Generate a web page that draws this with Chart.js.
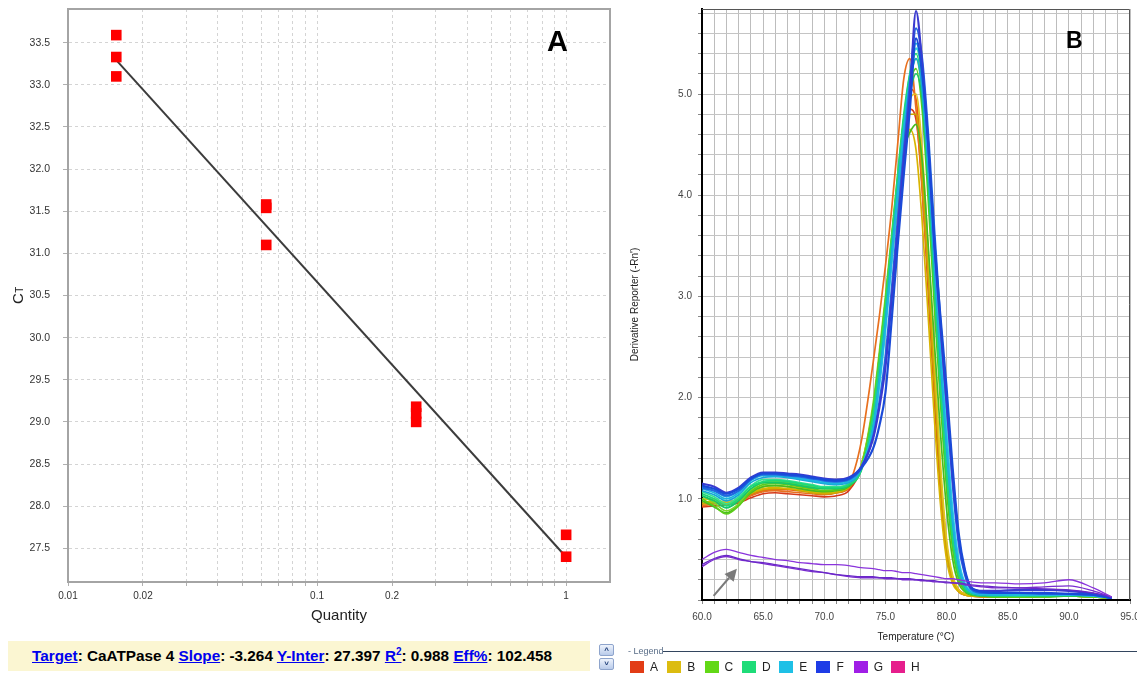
<!DOCTYPE html>
<html>
<head>
<meta charset="utf-8">
<title>CaATPase 4 standard curve / melt curve</title>
<script src="https://cdn.jsdelivr.net/npm/chart.js@4.4.1/dist/chart.umd.min.js"></script>
<style>
  html, body { margin:0; padding:0; background:#fff; }
  body { width:1137px; height:677px; position:relative; overflow:hidden;
         font-family: Arial, "Liberation Sans", sans-serif; }
  canvas { position:absolute; }
  #cStd  { left:0; top:0; }
  #cMelt { left:622px; top:0; }
  .tag { position:absolute; font-weight:bold; color:#000; line-height:1; }
  #tagA { left:547px; top:27px; font-size:29px; }
  #tagB { left:1066px; top:29px; font-size:23px; }
  #statBar { position:absolute; left:8px; top:641px; width:582px; height:30px; box-sizing:border-box;
             padding-left:24px; background:#fbf6d2; font-weight:bold; font-size:15.3px; line-height:30px;
             white-space:nowrap; color:#000; }
  #statBar a { color:#0000ee; text-decoration:underline; }
  #statBar sup { font-size:10px; line-height:0; }
  .scrollBtn { position:absolute; left:599px; width:15px; height:12px; box-sizing:border-box;
               border:1px solid #8ea4cc; border-radius:2px; background:linear-gradient(#eef3fc,#b9cbea);
               color:#1f3f7a; font-size:8px; line-height:10px; text-align:center; font-weight:bold; }
  #btnUp { top:644px; }
  #btnDown { top:658px; }
  #legendHead { position:absolute; left:628px; top:646px; font-size:9px; color:#5a6e88; line-height:10px; }
  #legendRule { position:absolute; left:663px; top:651px; width:474px; height:1px; background:#33455e; }
  #legendRow { position:absolute; left:630px; top:660px; display:flex; }
  #legendRow .item { width:37.3px; display:flex; align-items:center; font-size:12px; color:#222; }
  #legendRow .sw { width:14px; height:12px; margin-right:6px; }
</style>
</head>
<body>
<canvas id="cStd" width="620" height="640"></canvas>
<canvas id="cMelt" width="515" height="645"></canvas>
<div class="tag" id="tagA">A</div>
<div class="tag" id="tagB">B</div>
<div id="statBar"></div>
<div class="scrollBtn" id="btnUp">&#708;</div>
<div class="scrollBtn" id="btnDown">&#709;</div>
<div id="legendHead">- Legend</div>
<div id="legendRule"></div>
<div id="legendRow"></div>

<script>
// ---------- Standard curve (panel A) ----------
const targetName   = 'CaATPase 4';
const fitSlope     = -3.264;
const fitIntercept = 27.397;
const fitR2        = 0.988;
const fitEff       = 102.458;

const stdQty = [0.015625, 0.015625, 0.015625, 0.0625, 0.0625, 0.0625, 0.25, 0.25, 0.25, 1, 1];
const stdCt  = [33.59, 33.33, 33.10, 31.58, 31.54, 31.10, 29.18, 29.10, 29.00, 27.66, 27.40];

const qtyLabels = [0.01, 0.02, 0.1, 0.2, 1];

// ---------- Melt curve (panel B) ----------
const meltTemps = [60, 61, 62, 63, 64, 65, 66, 67, 68, 69, 70, 71, 72, 73,
  74, 74.5, 75, 75.5, 76, 76.5, 77, 77.5, 78, 78.5, 79, 79.5, 80, 80.5, 81, 81.5, 82,
  83, 84, 86, 88, 90, 92, 93.5];

const wellA = [
  [0.93,0.95,0.96,0.97,1.03,1.07,1.08,1.07,1.06,1.05,1.04,1.06,1.14,1.55,
   2.35,2.80,3.30,3.85,4.50,5.15,5.35,4.85,4.05,3.15,2.15,1.20,0.50,0.20,0.09,0.06,0.05,
   0.04,0.04,0.04,0.05,0.05,0.04,0.02],
  [0.92,0.93,0.94,0.96,1.01,1.05,1.06,1.05,1.04,1.03,1.02,1.03,1.08,1.30,
   1.85,2.30,2.85,3.45,4.00,4.50,4.85,4.75,4.10,3.05,2.00,1.05,0.45,0.18,0.08,0.05,0.04,
   0.03,0.03,0.03,0.04,0.04,0.03,0.02],
  [0.95,0.96,0.97,0.99,1.04,1.08,1.09,1.09,1.08,1.07,1.05,1.06,1.10,1.32,
   1.90,2.40,2.95,3.55,4.15,4.70,5.05,4.95,4.30,3.30,2.25,1.25,0.55,0.22,0.10,0.06,0.05,
   0.04,0.04,0.04,0.04,0.05,0.04,0.02],
];
const wellB = [
  [0.97,0.97,0.95,0.98,1.06,1.10,1.11,1.10,1.09,1.07,1.06,1.07,1.12,1.33,
   1.90,2.35,2.85,3.40,3.95,4.40,4.65,4.45,3.75,2.80,1.80,0.95,0.40,0.16,0.08,0.05,0.04,
   0.04,0.03,0.03,0.04,0.04,0.03,0.02],
  [1.00,0.99,0.97,1.00,1.08,1.12,1.13,1.12,1.11,1.09,1.08,1.09,1.13,1.30,
   1.82,2.28,2.80,3.40,4.00,4.55,4.95,5.00,4.45,3.45,2.40,1.35,0.60,0.24,0.10,0.06,0.05,
   0.04,0.04,0.04,0.04,0.04,0.04,0.02],
  [0.95,0.96,0.96,0.99,1.05,1.09,1.10,1.10,1.08,1.06,1.05,1.06,1.11,1.31,
   1.85,2.30,2.80,3.35,3.90,4.45,4.80,4.80,4.20,3.20,2.15,1.20,0.52,0.20,0.09,0.05,0.04,
   0.03,0.03,0.03,0.04,0.04,0.03,0.02],
];
const wellC = [
  [1.00,0.93,0.85,0.93,1.07,1.14,1.15,1.14,1.12,1.10,1.08,1.09,1.13,1.30,
   1.90,2.40,2.95,3.55,4.15,4.70,5.10,5.25,4.85,3.95,2.90,1.95,1.10,0.50,0.20,0.09,0.06,
   0.04,0.03,0.03,0.03,0.04,0.03,0.02],
  [1.03,0.96,0.88,0.95,1.09,1.16,1.17,1.16,1.14,1.12,1.10,1.11,1.15,1.32,
   1.95,2.45,3.00,3.60,4.20,4.75,5.15,5.35,5.00,4.10,3.05,2.05,1.20,0.55,0.22,0.10,0.06,
   0.04,0.04,0.03,0.04,0.04,0.03,0.02],
  [0.98,0.92,0.86,0.94,1.06,1.12,1.13,1.12,1.10,1.08,1.07,1.08,1.12,1.29,
   1.85,2.30,2.85,3.45,4.00,4.45,4.62,4.70,4.35,3.50,2.55,1.65,0.90,0.40,0.16,0.08,0.05,
   0.04,0.03,0.03,0.03,0.04,0.03,0.02],
];
const wellD = [
  [1.05,1.00,0.93,1.00,1.12,1.17,1.18,1.17,1.15,1.13,1.11,1.11,1.14,1.28,
   1.85,2.35,2.90,3.55,4.20,4.80,5.20,5.40,5.05,4.15,3.10,2.10,1.25,0.60,0.25,0.11,0.07,
   0.05,0.04,0.04,0.04,0.05,0.04,0.02],
  [1.07,1.02,0.95,1.02,1.13,1.19,1.19,1.18,1.16,1.14,1.12,1.12,1.15,1.29,
   1.80,2.30,2.85,3.50,4.15,4.75,5.20,5.45,5.15,4.30,3.25,2.25,1.35,0.65,0.27,0.12,0.07,
   0.05,0.05,0.04,0.05,0.05,0.04,0.02],
  [1.03,0.98,0.91,0.98,1.10,1.16,1.16,1.15,1.13,1.11,1.10,1.10,1.13,1.27,
   1.75,2.20,2.75,3.40,4.05,4.60,5.00,5.20,4.95,4.10,3.10,2.10,1.25,0.60,0.25,0.10,0.06,
   0.04,0.04,0.04,0.04,0.04,0.04,0.02],
];
const wellE = [
  [1.10,1.06,1.00,1.06,1.18,1.23,1.23,1.22,1.20,1.18,1.16,1.15,1.17,1.30,
   1.70,2.15,2.70,3.35,4.00,4.65,5.15,5.50,5.20,4.40,3.40,2.45,1.55,0.80,0.35,0.15,0.08,
   0.06,0.05,0.05,0.05,0.05,0.04,0.02],
  [1.12,1.08,1.02,1.08,1.19,1.24,1.24,1.23,1.21,1.19,1.17,1.16,1.18,1.31,
   1.68,2.10,2.65,3.30,3.95,4.60,5.10,5.45,5.25,4.50,3.55,2.60,1.70,0.90,0.40,0.17,0.09,
   0.06,0.06,0.05,0.05,0.05,0.04,0.02],
  [1.08,1.04,0.98,1.04,1.16,1.21,1.22,1.21,1.19,1.17,1.15,1.14,1.16,1.29,
   1.72,2.20,2.75,3.40,4.05,4.65,5.10,5.35,5.05,4.25,3.30,2.35,1.50,0.75,0.32,0.14,0.08,
   0.05,0.05,0.05,0.05,0.05,0.04,0.02],
];
const wellF = [
  [1.13,1.10,1.05,1.10,1.20,1.25,1.25,1.24,1.23,1.21,1.19,1.18,1.20,1.30,
   1.50,1.72,2.05,2.75,3.50,4.20,4.85,5.55,5.20,4.50,3.55,2.80,2.10,1.30,0.65,0.30,0.13,
   0.08,0.07,0.07,0.07,0.06,0.05,0.02],
  [1.15,1.12,1.06,1.11,1.21,1.26,1.26,1.25,1.24,1.22,1.20,1.19,1.21,1.31,
   1.60,1.90,2.30,2.95,3.65,4.35,5.00,5.82,5.30,4.50,3.50,2.70,1.95,1.20,0.60,0.28,0.12,
   0.09,0.09,0.10,0.10,0.09,0.06,0.02],
  [1.11,1.08,1.03,1.08,1.19,1.24,1.24,1.23,1.22,1.20,1.18,1.17,1.19,1.30,
   1.62,1.95,2.40,3.05,3.75,4.45,5.10,5.65,5.35,4.60,3.65,2.75,1.95,1.15,0.55,0.25,0.11,
   0.07,0.07,0.07,0.06,0.06,0.05,0.02],
];
// no-template wells
const wellG = [
  [0.40,0.47,0.50,0.47,0.44,0.42,0.40,0.39,0.37,0.36,0.35,0.35,0.34,0.32,
   0.31,0.30,0.29,0.29,0.28,0.27,0.27,0.26,0.25,0.24,0.23,0.22,0.21,0.21,0.20,0.19,0.18,
   0.17,0.17,0.16,0.17,0.20,0.12,0.03],
  [0.35,0.41,0.44,0.41,0.38,0.37,0.35,0.33,0.31,0.29,0.27,0.25,0.24,0.23,
   0.23,0.22,0.22,0.22,0.21,0.21,0.21,0.20,0.20,0.19,0.19,0.18,0.18,0.17,0.17,0.16,0.15,
   0.14,0.13,0.12,0.11,0.10,0.07,0.03],
  [0.33,0.40,0.43,0.40,0.38,0.36,0.34,0.32,0.30,0.28,0.27,0.25,0.23,0.22,
   0.22,0.22,0.21,0.21,0.21,0.20,0.20,0.20,0.19,0.19,0.18,0.18,0.17,0.17,0.16,0.15,0.14,
   0.13,0.12,0.12,0.13,0.14,0.09,0.03],
];

const wellNames  = ['A', 'B', 'C', 'D', 'E', 'F', 'G', 'H'];
const wellCurves = [wellA, wellB, wellC, wellD, wellE, wellF, wellG, []];

// arrow pointing at the no-template curves, in data units
const arrowTail = { x: 60.95, y: 0.04 };
const arrowTip  = { x: 62.85, y: 0.31 };

// ---------- styles ----------
const FONT = 'Arial, "Liberation Sans", sans-serif';
const wellSwatch = ['#e23c16', '#dcbc10', '#62d816', '#1edc78', '#1ec0e6', '#1e3ce6', '#a01ee6', '#e61e8c'];
const wellShades = [
  ['#e8701e', '#d63a1a', '#ec5612'],
  ['#d9b400', '#e2c420', '#c9a600'],
  ['#5ccc1a', '#7ad82a', '#48bc20'],
  ['#1ed878', '#34e290', '#16c66a'],
  ['#1cb4e0', '#34cbe8', '#16a6d8'],
  ['#1a4ad8', '#3a3ad0', '#2068e0'],
  ['#8a34dc', '#6a28c8', '#7a2cd0'],
  [],
];
const wellOrder = [6, 5, 4, 3, 2, 1, 0, 7];   // lower = drawn on top

const $ = sel => document.querySelector(sel);
const el = {
  std:    $('#cStd'),
  melt:   $('#cMelt'),
  stat:   $('#statBar'),
  legend: $('#legendRow'),
};

const near = (a, b) => Math.abs(a - b) < 1e-9;

// ---------- plugins ----------
const framePlugin = {
  id: 'frame',
  afterDraw(chart, args, opts) {
    const { ctx, chartArea: a } = chart;
    ctx.save();
    ctx.strokeStyle = opts.color;
    ctx.lineWidth = opts.width;
    ctx.beginPath();
    if (opts.all) {
      ctx.rect(a.left, a.top, a.right - a.left, a.bottom - a.top);
    } else {
      ctx.moveTo(a.left, a.top + 0.5);
      ctx.lineTo(a.right - 0.5, a.top + 0.5);
      ctx.lineTo(a.right - 0.5, a.bottom);
    }
    ctx.stroke();
    ctx.restore();
  }
};

// "CT" axis title with the small T
const ctTitlePlugin = {
  id: 'ctTitle',
  afterDraw(chart) {
    const { ctx, chartArea: a } = chart;
    ctx.save();
    ctx.translate(23, (a.top + a.bottom) / 2);
    ctx.rotate(-Math.PI / 2);
    ctx.fillStyle = '#222';
    ctx.textBaseline = 'alphabetic';
    ctx.font = `15px ${FONT}`;
    const wC = ctx.measureText('C').width;
    ctx.font = `10px ${FONT}`;
    const wT = ctx.measureText('T').width;
    const x0 = -(wC + wT) / 2;
    ctx.font = `15px ${FONT}`;
    ctx.fillText('C', x0, 0);
    ctx.font = `10px ${FONT}`;
    ctx.fillText('T', x0 + wC + 0.5, 0);
    ctx.restore();
  }
};

const arrowPlugin = {
  id: 'arrow',
  afterDatasetsDraw(chart) {
    const { ctx, scales: { x, y } } = chart;
    const x0 = x.getPixelForValue(arrowTail.x), y0 = y.getPixelForValue(arrowTail.y);
    const x1 = x.getPixelForValue(arrowTip.x),  y1 = y.getPixelForValue(arrowTip.y);
    const ang = Math.atan2(y1 - y0, x1 - x0);
    const head = 12, half = 6;
    const bx = x1 - head * Math.cos(ang), by = y1 - head * Math.sin(ang);
    ctx.save();
    ctx.strokeStyle = ctx.fillStyle = '#7a7a7a';
    ctx.lineWidth = 2;
    ctx.beginPath(); ctx.moveTo(x0, y0); ctx.lineTo(bx, by); ctx.stroke();
    ctx.beginPath();
    ctx.moveTo(x1, y1);
    ctx.lineTo(bx + half * Math.sin(ang), by - half * Math.cos(ang));
    ctx.lineTo(bx - half * Math.sin(ang), by + half * Math.cos(ang));
    ctx.closePath(); ctx.fill();
    ctx.restore();
  }
};

function fixBox(size, key) {
  return scale => {
    scale[key] = size;
    scale.paddingLeft = scale.paddingRight = scale.paddingTop = scale.paddingBottom = 0;
  };
}

// ---------- panel A ----------
function drawStandardCurve() {
  const points = stdQty.map((q, i) => ({ x: q, y: stdCt[i] }));
  const qEnds = [Math.min(...stdQty), Math.max(...stdQty)];
  const fitLine = qEnds.map(q => ({ x: q, y: fitSlope * Math.log10(q) + fitIntercept }));

  new Chart(el.std, {
    type: 'scatter',
    data: {
      datasets: [
        { label: 'Standards', data: points, pointStyle: 'rect', pointRadius: 7.5,
          backgroundColor: '#ff0000', borderColor: '#ff0000', borderWidth: 0 },
        { label: 'Fit', data: fitLine, showLine: true, pointRadius: 0,
          borderColor: '#3c3c3c', borderWidth: 2 },
      ]
    },
    options: {
      responsive: false, animation: false,
      layout: { padding: { left: 0, top: 9, right: 10, bottom: 0 } },
      plugins: { legend: { display: false }, tooltip: { enabled: false },
                 frame: { color: '#a4a4a4', width: 2, all: true } },
      scales: {
        x: {
          type: 'logarithmic', min: 0.01, max: 1.5,
          afterBuildTicks: scale => {
            const t = [];
            for (let k = 1; k <= 9; k++) t.push(k / 100);
            for (let k = 1; k <= 9; k++) t.push(k / 10);
            t.push(1);
            scale.ticks = t.map(v => ({ value: v }));
          },
          afterFit: fixBox(58, 'height'),
          grid: { color: '#d4d4d4', tickLength: 4, tickColor: '#b0b0b0' },
          border: { dash: [3, 3], color: '#a4a4a4', width: 2 },
          ticks: { autoSkip: false, maxRotation: 0, padding: 4, color: '#333',
                   font: { family: FONT, size: 10 },
                   callback: v => qtyLabels.some(q => near(q, v)) ? String(v) : '' },
          title: { display: true, text: 'Quantity', color: '#222',
                   font: { family: FONT, size: 15 }, padding: { top: 0, bottom: 15 } },
        },
        y: {
          min: 27.1, max: 33.9,
          afterFit: fixBox(68, 'width'),
          grid: { color: '#d4d4d4', tickLength: 5, tickColor: '#b0b0b0' },
          border: { dash: [3, 3], color: '#a4a4a4', width: 2 },
          ticks: { stepSize: 0.5, includeBounds: false, padding: 13, color: '#333',
                   font: { family: FONT, size: 10.5 },
                   callback: v => v.toFixed(1) },
        },
      }
    },
    plugins: [framePlugin, ctTitlePlugin]
  });
}

// ---------- panel B ----------
function meltDatasets() {
  const sets = [];
  wellCurves.forEach((curves, w) => {
    curves.forEach((vals, c) => {
      sets.push({
        label: `${wellNames[w]}${c + 1}`,
        data: meltTemps.map((t, i) => ({ x: t, y: vals[i] })),
        borderColor: wellShades[w][c % wellShades[w].length],
        borderWidth: wellNames[w] === 'F' ? 2.2 : (wellNames[w] === 'G' ? 1.3 : 1.7),
        pointRadius: 0,
        cubicInterpolationMode: 'monotone',
        order: wellOrder[w],
      });
    });
  });
  return sets;
}

function drawMeltCurve() {
  new Chart(el.melt, {
    type: 'line',
    data: { datasets: meltDatasets() },
    options: {
      responsive: false, animation: false,
      layout: { padding: { left: 0, top: 9, right: 7, bottom: 0 } },
      plugins: { legend: { display: false }, tooltip: { enabled: false },
                 frame: { color: '#555', width: 1, all: false } },
      scales: {
        x: {
          type: 'linear', min: 60, max: 95,
          afterFit: fixBox(45, 'height'),
          grid: { color: '#bdbdbd', tickLength: 4, tickColor: '#888' },
          border: { color: '#000', width: 2 },
          ticks: { stepSize: 1, autoSkip: false, maxRotation: 0, padding: 7, color: '#444',
                   font: { family: FONT, size: 10 },
                   callback: v => near(v % 5, 0) ? v.toFixed(1) : '' },
          title: { display: true, text: 'Temperature (°C)', color: '#222',
                   font: { family: FONT, size: 10 }, padding: { top: 0, bottom: 2 } },
        },
        y: {
          min: 0, max: 5.84,
          afterFit: fixBox(80, 'width'),
          grid: { color: '#c4c4c4', tickLength: 4, tickColor: '#888' },
          border: { color: '#000', width: 2 },
          ticks: { stepSize: 0.2, includeBounds: false, autoSkip: false, padding: 6, color: '#444',
                   font: { family: FONT, size: 10 },
                   callback: v => (v >= 1 && near(v, Math.round(v))) ? v.toFixed(1) : '' },
          title: { display: true, text: "Derivative Reporter (-Rn')", color: '#222',
                   font: { family: FONT, size: 10 }, padding: { top: 7, bottom: 0 } },
        },
      }
    },
    plugins: [framePlugin, arrowPlugin]
  });
}

// ---------- text bits ----------
function renderStatBar() {
  el.stat.innerHTML =
    `<a>Target</a>: ${targetName} <a>Slope</a>: ${fitSlope.toFixed(3)} ` +
    `<a>Y-Inter</a>: ${fitIntercept.toFixed(3)} <a>R<sup>2</sup></a>: ${fitR2.toFixed(3)} ` +
    `<a>Eff%</a>: ${fitEff.toFixed(3)}`;
}

function renderLegend() {
  el.legend.innerHTML = wellNames.map((n, i) =>
    `<div class="item"><span class="sw" style="background:${wellSwatch[i]}"></span>${n}</div>`
  ).join('');
}

document.addEventListener('DOMContentLoaded', () => {
  renderStatBar();
  renderLegend();
  drawStandardCurve();
  drawMeltCurve();
});
</script>
</body>
</html>
